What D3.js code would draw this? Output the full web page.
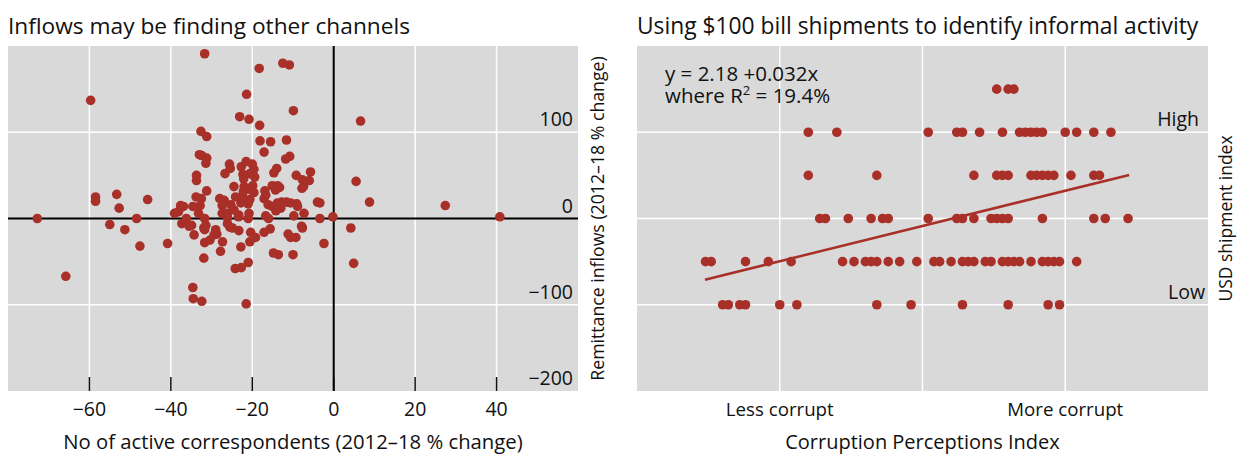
<!DOCTYPE html>
<html>
<head>
<meta charset="utf-8">
<script src="https://cdn.jsdelivr.net/npm/d3@7"></script>
<style>
  html, body { margin: 0; padding: 0; background: #ffffff; }
  svg { display: block; }
  text { font-family: "Open Sans", "Noto Sans", sans-serif; fill: #111; }
</style>
</head>
<body>
<svg id="chart" width="1237" height="454"></svg>
<script>
// ---------------- DATA ----------------
// Left panel: [No of active correspondents % change, Remittance inflows % change]
const countryPoints = [
  [-31.7,191],[-59.7,137],[-18.3,174],[-12.5,180],[-10.9,178],[-21.4,144],[-9.9,125],
  [-23.1,118],[-20.8,115],[-18.2,108],[-32.6,101],[-31.2,95],[-18.1,90],[-15.5,89],
  [-11.6,91],[-17.1,77],[-33,74],[-32.4,73],[-31.2,70],[-31.4,64],[-11.8,69],[-10.8,72],
  [-25.6,63],[-25.4,58],[-26.7,52],[-21.5,66],[-22.7,60],[-20,63],[-19.6,57],[-22.3,51],
  [-22.1,46],[-19.4,48],[-20.6,52],[-14.7,53],[-14,58],[-9.2,50],[-5.7,54],[-7.7,45],[-6,44],
  [-33.7,50],[-33.7,44],[-24.5,37],[-22,37],[-19.9,38],[-20.8,34],[-19.6,30],[-22.2,31],
  [-16.9,32],[-15.1,38],[-13.8,38],[-13.3,36],[-14.3,33],[-7.8,35],[-7.4,37],[-31.2,32],
  [-33.8,25],[-32.5,23],[-58.5,25],[-58.5,20],[-53.3,28],[-52.7,12],[-45.7,22],[-28,23],
  [-26.9,21],[-27.4,15],[-25.3,16],[-24.1,25],[-22.8,18],[-21,17],[-20.6,22],[-22.4,25],
  [-17.1,23],[-16.1,16],[-16.7,27],[-15.1,14],[-13,12],[-13.8,18],[-12.8,19],[-11.6,19],
  [-10.6,18],[-9.1,17],[-8.9,14],[-4,19],[-3.4,18],[-37.6,15],[-36.9,14],[-39.1,6],
  [-38.1,8],[-34.6,14],[-32.8,15],[-33.2,6],[-27.4,6],[-26.1,6],[-24.5,10],[-23.3,4],
  [-20.8,6],[-16.7,3],[-14.2,9],[-9.8,3],[-7.3,6],[-26.1,1],
  [-72.8,0],[-48.4,0],[-36.2,0],[-31.7,0],[-21,0],[-16,0],[-23.4,2],[-3.4,0],[-0.2,2],
  [-37.3,-6],[-35.5,-9],[-34.9,-8],[-34.3,-19],[-31.9,-11],[-31.7,-13],[-31.4,-8],
  [-31.7,-28],[-30.4,-25],[-29,-13],[-28.7,-18],[-29.4,-19],[-27.3,-27],[-27.8,-38],
  [-31.9,-46],[-26.1,-6],[-25.5,-10],[-24.9,-11],[-23.3,-14],[-20.4,-16],[-19.2,-22],
  [-20.6,-27],[-22.8,-33],[-21,-51],[-24.2,-58],[-22.7,-57],[-21.5,-99],[-34.6,-80],
  [-34.5,-93],[-32.4,-96],[-65.8,-67],[-55,-7],[-51.3,-13],[-47.6,-32],[-40.8,-29],
  [-17.1,-16],[-15.6,-12],[-14.8,-40],[-13.6,-42],[-11.2,-18],[-10.6,-22],[-9.3,-22],
  [-10,-42],[-7.9,-9],[-7.7,-11],[-2.4,-29],
  [4.2,-11],[4.9,-52],[27.4,15],[40.8,2],[8.8,19],[6.6,113],[5.5,43]
];

const leftXTicks = [-60, -40, -20, 0, 20, 40];
const leftYTicks = [100, 0, -100, -200];

// Right panel: USD shipment index level (2 = Low ... 6 = High) and CPI positions at that level
const shipmentLevels = [7, 6, 5, 4, 3, 2];
const cpiByLevel = [
  [63, 65, 66],
  [30, 35, 51, 56, 57, 60, 64, 67, 68, 69, 70, 71, 75, 77, 80, 83],
  [30, 42, 59, 63, 64, 65, 69, 70, 71, 72, 73, 76, 80, 81],
  [32, 33, 37, 41, 43, 44, 51, 56, 57, 59, 62, 63, 64, 65, 71, 80, 82, 86],
  [12, 13, 19, 23, 27, 36, 38, 40, 41, 42, 44, 46, 49, 52, 53, 55, 57, 58, 59, 61, 62,
   64, 65, 66, 67, 69, 71, 72, 73, 74, 77],
  [15, 16, 18, 19, 25, 28, 42, 48, 57, 65, 72, 74]
];
const fitLine = [[11.9, 2.58], [86.2, 5.01]];
const rightGridX = [25, 50, 75];
const rightGridY = [2, 4, 6];
const rightXLabels = [{v: 25, t: "Less corrupt"}, {v: 75, t: "More corrupt"}];
const rightYLabels = [{v: 6, t: "High"}, {v: 2, t: "Low"}];

const titles = ["Inflows may be finding other channels",
                "Using $100 bill shipments to identify informal activity"];

// ---------------- DRAW ----------------
const svg = d3.select("#chart");
const BG = "#d9d9d9", RED = "#a93029";

// ---- Left panel ----
const xL = d3.scaleLinear().domain([-80, 60]).range([8, 578]);
const yL = d3.scaleLinear().domain([-200, 200]).range([391, 46]);

const gL = svg.append("g");
gL.append("rect").attr("x", xL.range()[0]).attr("y", yL.range()[1])
  .attr("width", xL.range()[1] - xL.range()[0]).attr("height", yL.range()[0] - yL.range()[1])
  .attr("fill", BG);

gL.selectAll("line.vg").data(leftXTicks.filter(d => d !== 0)).join("line")
  .attr("x1", d => xL(d)).attr("x2", d => xL(d)).attr("y1", yL(200)).attr("y2", yL(-200))
  .attr("stroke", "#fff").attr("stroke-width", 1.5);
gL.selectAll("line.hg").data([100, -100]).join("line")
  .attr("x1", xL(-80)).attr("x2", xL(60)).attr("y1", d => yL(d)).attr("y2", d => yL(d))
  .attr("stroke", "#fff").attr("stroke-width", 1.5);

// bottom tick marks
gL.selectAll("line.bt").data(leftXTicks).join("line")
  .attr("x1", d => xL(d)).attr("x2", d => xL(d)).attr("y1", yL(-200) - 14).attr("y2", yL(-200))
  .attr("stroke", "#111").attr("stroke-width", 1.5);

// zero lines
gL.append("line").attr("x1", xL(-80)).attr("x2", xL(60)).attr("y1", yL(0)).attr("y2", yL(0))
  .attr("stroke", "#000").attr("stroke-width", 2);
gL.append("line").attr("x1", xL(0)).attr("x2", xL(0)).attr("y1", yL(200)).attr("y2", yL(-200))
  .attr("stroke", "#000").attr("stroke-width", 2);

gL.selectAll("circle").data(countryPoints).join("circle")
  .attr("cx", d => xL(d[0])).attr("cy", d => yL(d[1])).attr("r", 4.8).attr("fill", RED);

// y tick labels (inside right)
gL.selectAll("text.yt").data(leftYTicks).join("text")
  .attr("x", 573).attr("y", d => yL(d) - 6).attr("text-anchor", "end")
  .attr("font-size", 19.5).text(d => d < 0 ? "\u2212" + Math.abs(d) : d);

// x tick labels
gL.selectAll("text.xt").data(leftXTicks).join("text")
  .attr("x", d => xL(d)).attr("y", 416).attr("text-anchor", "middle")
  .attr("font-size", 19.5).text(d => d < 0 ? "\u2212" + Math.abs(d) : d);

gL.append("text").attr("x", (xL(-80) + xL(60)) / 2).attr("y", 449).attr("text-anchor", "middle")
  .attr("font-size", 20.3).text("No of active correspondents (2012\u201318 % change)");

gL.append("text").attr("transform", `translate(604,${(yL(200) + yL(-200)) / 2}) rotate(-90)`)
  .attr("text-anchor", "middle").attr("font-size", 17.7)
  .text("Remittance inflows (2012\u201318 % change)");

svg.append("text").attr("x", 8).attr("y", 34).attr("font-size", 22.7).text(titles[0]);

// ---- Right panel ----
const xR = d3.scaleLinear().domain([0, 100]).range([637, 1208]);
const yR = d3.scaleLinear().domain([0, 8]).range([391, 46]);

const gR = svg.append("g");
gR.append("rect").attr("x", xR.range()[0]).attr("y", yR.range()[1])
  .attr("width", xR.range()[1] - xR.range()[0]).attr("height", yR.range()[0] - yR.range()[1])
  .attr("fill", BG);
gR.selectAll("line.vg").data(rightGridX).join("line")
  .attr("x1", d => xR(d)).attr("x2", d => xR(d)).attr("y1", yR(8)).attr("y2", yR(0))
  .attr("stroke", "#fff").attr("stroke-width", 1.5);
gR.selectAll("line.hg").data(rightGridY).join("line")
  .attr("x1", xR(0)).attr("x2", xR(100)).attr("y1", d => yR(d)).attr("y2", d => yR(d))
  .attr("stroke", "#fff").attr("stroke-width", 1.5);

const shipPoints = [];
shipmentLevels.forEach((lv, i) => cpiByLevel[i].forEach(c => shipPoints.push([c, lv])));

gR.append("path").datum(fitLine)
  .attr("d", d3.line().x(d => xR(d[0])).y(d => yR(d[1])))
  .attr("stroke", RED).attr("stroke-width", 2.5).attr("fill", "none");

gR.selectAll("circle").data(shipPoints).join("circle")
  .attr("cx", d => xR(d[0])).attr("cy", d => yR(d[1])).attr("r", 4.8).attr("fill", RED);

gR.selectAll("text.xl").data(rightXLabels).join("text")
  .attr("x", d => xR(d.v)).attr("y", 416).attr("text-anchor", "middle")
  .attr("font-size", 18.7).text(d => d.t);

gR.selectAll("text.yl").data(rightYLabels).join("text")
  .attr("x", (d, i) => i === 0 ? 1199 : 1205).attr("y", d => yR(d.v) - 6).attr("text-anchor", "end")
  .attr("font-size", 19.5).text(d => d.t);

// regression equation as a single two-line text
const eq = gR.append("text").attr("x", 665).attr("y", 81).attr("font-size", 20.5);
eq.append("tspan").attr("x", 665).attr("y", 81).text("y = 2.18 +0.032x");
eq.append("tspan").attr("x", 665).attr("y", 103).text("where R");
eq.append("tspan").attr("dy", -8).attr("font-size", 13).text("2");
eq.append("tspan").attr("dy", 8).text(" = 19.4%");

gR.append("text").attr("x", (xR(0) + xR(100)) / 2).attr("y", 449).attr("text-anchor", "middle")
  .attr("font-size", 20).text("Corruption Perceptions Index");

gR.append("text").attr("transform", `translate(1232,${(yR(0) + yR(8)) / 2}) rotate(-90)`)
  .attr("text-anchor", "middle").attr("font-size", 17.5).text("USD shipment index");

svg.append("text").attr("x", 637).attr("y", 34).attr("font-size", 22.8).text(titles[1]);
</script>
</body>
</html>
